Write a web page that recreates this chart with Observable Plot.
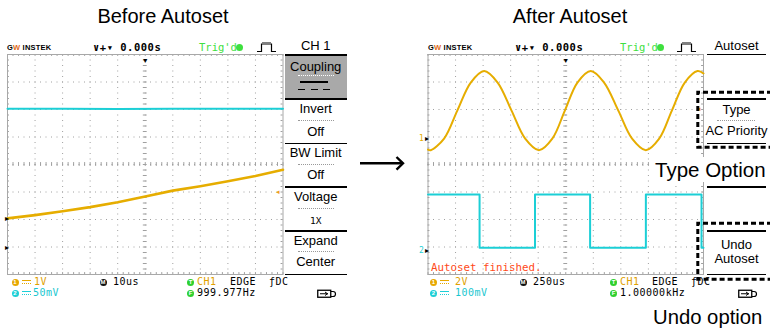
<!DOCTYPE html>
<html><head><meta charset="utf-8">
<script src="https://cdn.jsdelivr.net/npm/d3@7"></script>
<script src="https://cdn.jsdelivr.net/npm/@observablehq/plot@0.6"></script>
<style>
body{margin:0;background:#fff;}
#root{position:relative;width:770px;height:329px;overflow:hidden;font-family:"Liberation Sans",Arial,sans-serif;background:#fff;}
.abs{position:absolute;white-space:nowrap;}
</style>
</head><body><div id="root"></div>
<script>
// ---------------- data ----------------
const panelTitles = ["Before Autoset", "After Autoset"];
const divsX = [-5, -4, -3, -2, -1, 0, 1, 2, 3, 4, 5];
const divsY = [-4, -3, -2, -1, 0, 1, 2, 3, 4];
const timebaseUs = [10, 250]; // per division, before / after

// Before autoset (time in µs, vertical in screen divisions)
const beforeCh1T = [-50, -40, -30, -20, -10, 0, 10, 20, 30, 40, 50];
const beforeCh1V = [-1.96, -1.84, -1.70, -1.55, -1.37, -1.16, -0.95, -0.79, -0.61, -0.42, -0.19];
const beforeCh2T = [-50, -30, -10, 10, 30, 50];
const beforeCh2V = [2.03, 2.03, 2.02, 2.03, 2.03, 2.03];
const beforeGround = [-1.96, -3.0];
const beforeTrigLevel = [-1.0];

// After autoset
const afterCh1T = [-1250, -1225, -1104, -984, -862, -740, -618, -492, -368, -243, -122, -8, 106, 227, 348, 477, 602, 727, 848, 963, 1080, 1196, 1250];
const afterCh1V = [0.54, 0.52, 0.94, 1.96, 2.98, 3.40, 2.98, 1.96, 0.94, 0.52, 0.94, 1.96, 2.98, 3.40, 2.98, 1.96, 0.94, 0.52, 0.94, 1.96, 2.98, 3.40, 3.31];
const afterCh2T = [-1250, -782, -279, 221, 727, 1232, 1250];
const afterCh2V = [-1.09, -3.03, -1.09, -3.03, -1.09, -3.03, -3.03];
const afterGround = [{label: "1", v: 0.94}, {label: "2", v: -3.12}];
const afterTrigLevel = [2.04];

// menus
const beforeMenu = ["CH 1", "Coupling", "Invert", "Off", "BW Limit", "Off", "Voltage", "1X", "Expand", "Center"];
const afterMenu = ["Autoset", "Type", "AC Priority", "Undo", "Autoset"];
const beforeStatus = ["1V", "50mV", "10us", "CH1", "EDGE", "DC", "999.977Hz"];
const afterStatus = ["2V", "100mV", "250us", "CH1", "EDGE", "DC", "1.00000kHz"];
const callouts = ["Type Option", "Undo option"];
const message = "Autoset finished.";

// ---------------- styles ----------------
const YEL = "#e6ad00", CYA = "#1ccfd6", GRN = "#3ee03e", GRID = "#a0a0a0";
const SANS = '"Liberation Sans", Arial, sans-serif';
const MONO = '"DejaVu Sans Mono", monospace';

const root = document.getElementById("root");

function scope({tb, ch1, ch2, w1, w2, curve1, curve2, extra, mLeft}) {
  const xs = divsX.map(d => d * tb);
  const minorX = d3.range(-25, 26).map(i => i / 5 * tb);
  const minorY = d3.range(-20, 21).map(i => i / 5);
  const dot = {stroke: GRID, strokeWidth: 1, strokeDasharray: "1,4.5"};
  return Plot.plot({
    width: mLeft + 275.5 + 4.5, height: 229,
    marginLeft: mLeft, marginRight: 4.5, marginTop: 6, marginBottom: 3,
    x: {domain: [-5 * tb, 5 * tb], axis: null},
    y: {domain: [-4, 4], axis: null},
    style: {background: "transparent", overflow: "visible"},
    marks: [
      Plot.ruleX(xs.slice(1, -1), dot),
      Plot.ruleY(divsY.slice(1, -1), dot),
      Plot.ruleX(minorX, {y1: -0.07, y2: 0.07, stroke: GRID}),
      Plot.ruleY(minorY, {x1: -0.07 * tb, x2: 0.07 * tb, stroke: GRID}),
      Plot.ruleX(minorX, {y1: 4, y2: 3.93, stroke: GRID}),
      Plot.ruleX(minorX, {y1: -4, y2: -3.93, stroke: GRID}),
      Plot.ruleY(minorY, {x1: -5 * tb, x2: -4.93 * tb, stroke: GRID}),
      Plot.ruleY(minorY, {x1: 5 * tb, x2: 4.93 * tb, stroke: GRID}),
      Plot.frame({stroke: "#a8a8a8"}),
      Plot.line(ch2, {x: "t", y: "v", stroke: CYA, strokeWidth: w2, curve: curve2}),
      Plot.line(ch1, {x: "t", y: "v", stroke: YEL, strokeWidth: w1, curve: curve1}),
      Plot.text([0], {x: d => d, frameAnchor: "top", text: () => "▼", dy: 4, fontSize: 7, fill: "#000"}),
      ...extra
    ]
  });
}

const zipTV = (T, V) => T.map((t, i) => ({t, v: V[i]}));

const left = scope({
  tb: timebaseUs[0], mLeft: 7,
  ch1: zipTV(beforeCh1T, beforeCh1V), ch2: zipTV(beforeCh2T, beforeCh2V),
  w1: 2.6, w2: 2, curve1: "linear", curve2: "linear",
  extra: [
    Plot.text(beforeGround, {y: d => d, frameAnchor: "left", text: () => "▸", dx: -3, fontSize: 8, fill: "#000"}),
    Plot.text(beforeTrigLevel, {y: d => d, frameAnchor: "right", text: () => "◂", dx: -3, fontSize: 7, fill: "#f0a020"})
  ]
});
left.style.position = "absolute"; left.style.left = "-0.5px"; left.style.top = "48px";
root.appendChild(left);

const right = scope({
  tb: timebaseUs[1], mLeft: 16.5,
  ch1: zipTV(afterCh1T, afterCh1V), ch2: zipTV(afterCh2T, afterCh2V),
  w1: 2, w2: 2, curve1: "catmull-rom", curve2: "step-after",
  extra: [
    Plot.text(afterGround, {y: "v", frameAnchor: "left", text: () => "▸", dx: -3, fontSize: 8, fill: "#000"}),
    Plot.text(afterGround, {y: "v", frameAnchor: "left", text: "label", dx: -9, fontSize: 8, fontFamily: MONO, fill: d => d.label === "1" ? YEL : CYA}),
    Plot.text(afterTrigLevel, {y: d => d, frameAnchor: "right", text: () => "◂", dx: -3, fontSize: 7, fill: "#f0a020"}),
    Plot.text([message], {frameAnchor: "bottom-left", textAnchor: "start", lineAnchor: "bottom", dx: 3, dy: -4, fontFamily: MONO, fontSize: 10.8, fill: "#ff4a1a"})
  ]
});
right.style.position = "absolute"; right.style.left = "411px"; right.style.top = "48px";
root.appendChild(right);

// ---------------- html overlay ----------------
function put(html, x, yc, o = {}) {
  const size = o.size || 13;
  const lh = o.lh || Math.round(size * 1.2);
  const el = document.createElement("div");
  el.className = "abs";
  el.style.cssText = `left:${x}px;top:${yc - lh / 2}px;font-size:${size}px;line-height:${lh}px;font-family:${o.font || SANS};color:${o.color || "#000"};font-weight:${o.weight || "normal"};` +
    (o.anchor === "middle" ? "transform:translateX(-50%);" : o.anchor === "end" ? "transform:translateX(-100%);" : "") + (o.extra || "");
  el.innerHTML = html;
  root.appendChild(el);
  return el;
}
function box(x, y, w, h, css) {
  const el = document.createElement("div");
  el.className = "abs";
  el.style.cssText = `left:${x}px;top:${y}px;width:${w}px;height:${h}px;` + css;
  root.appendChild(el);
  return el;
}
function circ(x, yc, color, label) {
  const el = box(x, yc - 3.5, 7, 7, `border-radius:50%;background:${color};color:#fff;font:bold 6px ${SANS};line-height:7px;text-align:center;`);
  el.textContent = label;
}
function dcSym(x, yc, color) {
  box(x, yc - 2.5, 9, 2, `border-top:1.5px solid ${color};border-bottom:1.5px dotted ${color};`);
}

// titles
put(panelTitles[0], 163, 15.8, {size: 20, anchor: "middle"});
put(panelTitles[1], 570, 15.8, {size: 20, anchor: "middle"});

// headers
function header(x0, xTime, xTrig, xPulse) {
  put('G<span style="color:#e06a20">W</span> INSTEK', x0, 47, {size: 7.5, lh: 9, weight: "bold", extra: "letter-spacing:0.2px;"});
  put("∨+▾ 0.000s", xTime, 47, {size: 10.5, lh: 10, font: MONO, weight: "bold", extra: "letter-spacing:0.5px;"});
  put("Trig'd", xTrig, 47, {size: 10.5, lh: 10, font: MONO, color: GRN});
  box(xTrig + 37, 43.5, 7, 7, `border-radius:50%;background:${GRN};`);
  const s = document.createElementNS("http://www.w3.org/2000/svg", "svg");
  s.setAttribute("width", 20); s.setAttribute("height", 12);
  s.style.cssText = `position:absolute;left:${xPulse}px;top:41px;`;
  s.innerHTML = '<path d="M0,10.5 H4.5 V3 H14.5 V10.5 H19" fill="none" stroke="#000" stroke-width="1.2"/><path d="M5.5,1.5 H14" stroke="#000" stroke-width="1" stroke-dasharray="1,1"/>';
  root.appendChild(s);
}
header(7, 93, 199, 257);
header(428, 515, 620, 677);

// left menu
const LM = 315.7;
put(beforeMenu[0], LM, 46, {anchor: "middle", size: 13});
box(284.5, 54, 62.5, 1.5, "background:#000;");
box(284.5, 55.5, 62.5, 42.5, "background:#a9a9a9;");
put(beforeMenu[1], LM, 66.5, {anchor: "middle"});
box(298, 75, 36, 0, "border-top:1px dotted #fff;");
box(300, 81, 28, 1.5, "background:#000;");
[298, 310.5, 323].forEach(x => box(x, 88.5, 7, 1.5, "background:#000;"));
[98, 142.5, 186, 230, 273.5].forEach(y => box(284.5, y, 62.5, 1.5, "background:#000;"));
put(beforeMenu[2], LM, 109, {anchor: "middle"});
put(beforeMenu[3], LM, 131.5, {anchor: "middle"});
put(beforeMenu[4], LM, 153, {anchor: "middle"});
put(beforeMenu[5], LM, 175, {anchor: "middle"});
put(beforeMenu[6], LM, 196.5, {anchor: "middle"});
put(beforeMenu[7], LM, 220, {anchor: "middle", size: 9.5, font: MONO});
put(beforeMenu[8], LM, 240.5, {anchor: "middle"});
put(beforeMenu[9], LM, 261.5, {anchor: "middle"});
[120, 164, 208, 251].forEach(y => box(298, y, 36, 0, "border-top:1px dotted #999;"));

// right menu
const RM = 736.5;
put(afterMenu[0], RM, 46, {anchor: "middle"});
[53.5, 98, 142.5, 186, 230, 273.5].forEach(y => box(707, y, 59, 1.5, "background:#000;"));
put(afterMenu[1], RM, 110, {anchor: "middle"});
put(afterMenu[2], RM, 130.5, {anchor: "middle"});
box(717, 119.5, 38, 0, "border-top:1px dotted #999;");
put(afterMenu[3], RM, 245, {anchor: "middle"});
put(afterMenu[4], RM, 259, {anchor: "middle"});

// status rows
function status(x0, vals, xs) {
  const r1 = 282.3, r2 = 293.3;
  const mono = {size: 10, lh: 10, font: MONO, extra: "letter-spacing:0.5px;"};
  circ(x0, r1, "#e8a800", "1"); dcSym(x0 + 10, r1, "#e8a800");
  put(vals[0], xs.v1, r1, {...mono, color: "#e0a000"});
  circ(x0, r2, CYA, "2"); dcSym(x0 + 10, r2, CYA);
  put(vals[1], xs.v2, r2, {...mono, color: "#18c6cf"});
  circ(xs.m - 0.5, r1, "#111", "M");
  put(vals[2], xs.m + 13, r1, mono);
  circ(xs.t, r1, "#2fd02f", "T");
  put(vals[3], xs.t + 10, r1, {...mono, color: "#e0a000"});
  put(vals[4], xs.e, r1, mono);
  put("ƒ" + vals[5], xs.d, r1, mono);
  circ(xs.t, r2, "#2fd02f", "F");
  put(vals[6], xs.t + 10, r2, mono);
  const s = document.createElementNS("http://www.w3.org/2000/svg", "svg");
  s.setAttribute("width", 22); s.setAttribute("height", 10);
  s.style.cssText = `position:absolute;left:${xs.usb}px;top:${r2 - 4.5}px;`;
  s.innerHTML = '<rect x="0.75" y="1.25" width="13" height="7" fill="#fff" stroke="#000" stroke-width="1.3"/><path d="M3,4.75 H11 M8,3 L10.5,4.75 L8,6.5" fill="none" stroke="#000" stroke-width="1"/><path d="M14,2.5 H16 A2.5,2.5 0 0 1 16,7.5 H14" fill="none" stroke="#000" stroke-width="1.2"/>';
  root.appendChild(s);
}
status(11.5, beforeStatus, {v1: 34, v2: 33, m: 100, t: 187, e: 230, d: 269, usb: 317});
status(430, afterStatus, {v1: 455, v2: 455, m: 520, t: 610, e: 652, d: 691, usb: 738});

// callout text
put(callouts[0], 653, 169.8, {size: 20.5, extra: "background:#fff;padding:0 2px;"});
put(callouts[1], 653, 316.5, {size: 20.3});

// overlay: arrow and dashed boxes
const ov = document.createElementNS("http://www.w3.org/2000/svg", "svg");
ov.setAttribute("width", 770); ov.setAttribute("height", 329);
ov.style.cssText = "position:absolute;left:0;top:0;pointer-events:none;";
ov.innerHTML =
  '<path d="M360,163.3 H402.5" stroke="#000" stroke-width="2.6"/>' +
  '<path d="M396.5,157 L403,163.3 L396.5,169.6" fill="none" stroke="#000" stroke-width="2.4"/>' +
  '<path d="M772,92.3 H697.8 V147.3 H772" fill="none" stroke="#000" stroke-width="3" stroke-dasharray="5,3"/>' +
  '<path d="M772,223.3 H697.8 V279.3 H772" fill="none" stroke="#000" stroke-width="3" stroke-dasharray="5,3"/>';
root.appendChild(ov);
</script>
</body></html>
